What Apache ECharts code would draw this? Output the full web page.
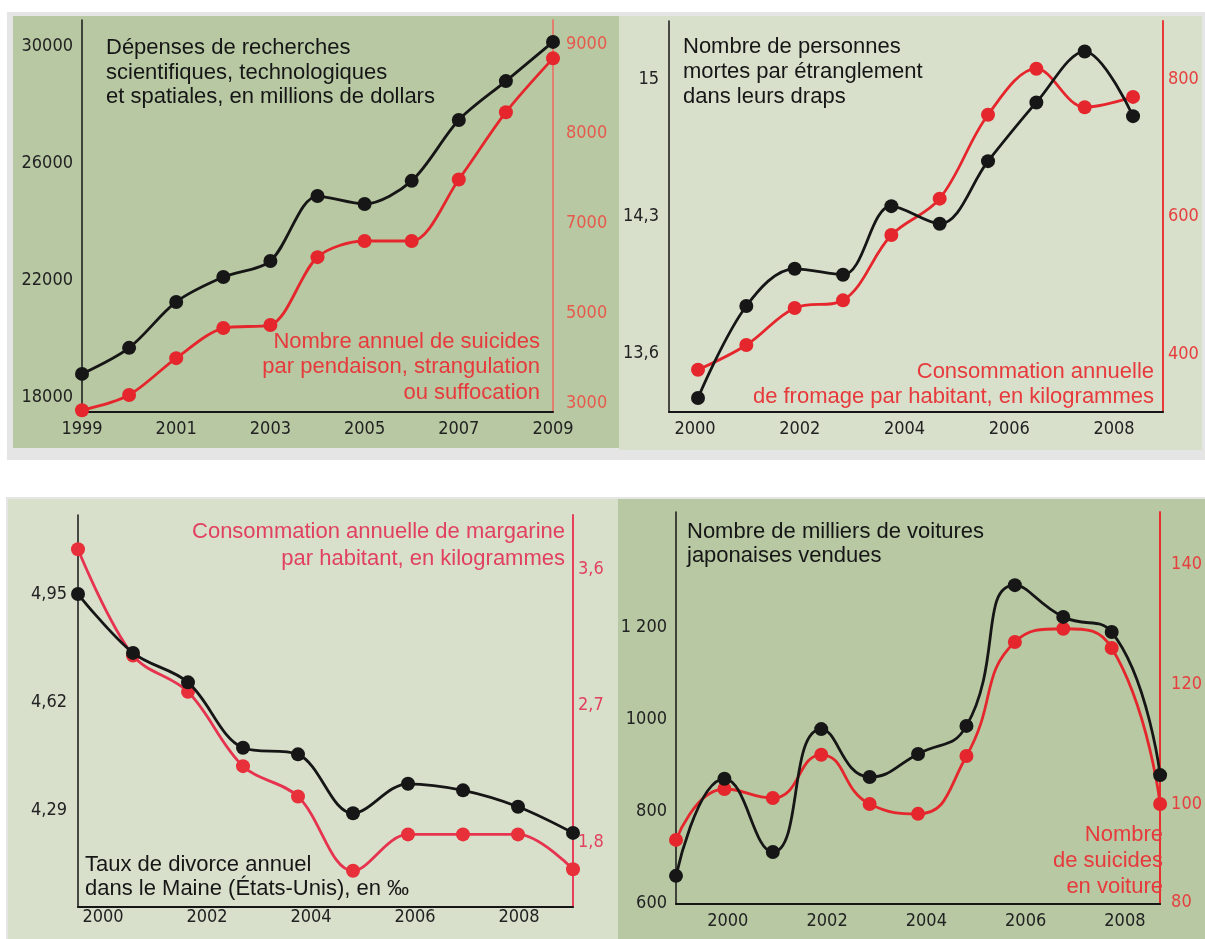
<!DOCTYPE html>
<html>
<head>
<meta charset="utf-8">
<title>Corrélations absurdes</title>
<script src="https://cdn.jsdelivr.net/npm/echarts@6/dist/echarts.min.js"></script>
<style>
  html, body { margin: 0; padding: 0; background: #fff; }
  #chart { width: 1205px; height: 939px; }
</style>
</head>
<body>
<div id="chart"></div>
<script>
// 1. dépenses de recherche / suicides par pendaison
const years1 = [1999, 2000, 2001, 2002, 2003, 2004, 2005, 2006, 2007, 2008, 2009]
const researchSpending = [18790, 19680, 21250, 22100, 22650, 24870, 24600, 25390, 27470, 28800, 30140]
const hangingSuicides = [2840, 3180, 4000, 4670, 4740, 6250, 6610, 6610, 7490, 8240, 8840]
const p1LeftTicks = ['18000', '22000', '26000', '30000']
const p1RightTicks = ['3000', '5000', '7000', '8000', '9000']
const p1YearTicks = ['1999', '2001', '2003', '2005', '2007', '2009']

// 2. morts étranglés dans leurs draps / fromage
const years2 = [2000, 2001, 2002, 2003, 2004, 2005, 2006, 2007, 2008, 2009]
const bedsheetDeaths = [13.37, 13.84, 14.03, 14.0, 14.35, 14.26, 14.58, 14.88, 15.14, 14.81]
const cheese = [377, 413, 467, 478, 573, 626, 748, 815, 759, 774]
const p2LeftTicks = ['13,6', '14,3', '15']
const p2RightTicks = ['400', '600', '800']
const p2YearTicks = ['2000', '2002', '2004', '2006', '2008']

// 3. divorces dans le Maine / margarine
const years3 = [2000, 2001, 2002, 2003, 2004, 2005, 2006, 2007, 2008, 2009]
const divorceRate = [4.95, 4.77, 4.68, 4.48, 4.46, 4.28, 4.37, 4.35, 4.3, 4.22]
const margarine = [3.73, 3.03, 2.79, 2.3, 2.1, 1.61, 1.85, 1.85, 1.85, 1.62]
const p3LeftTicks = ['4,29', '4,62', '4,95']
const p3RightTicks = ['1,8', '2,7', '3,6']
const p3YearTicks = ['2000', '2002', '2004', '2006', '2008']

// 4. voitures japonaises / suicides en voiture
const years4 = [1999, 2000, 2001, 2002, 2003, 2004, 2005, 2006, 2007, 2008, 2009]
const japaneseCars = [659, 870, 711, 978, 874, 924, 985, 1291, 1222, 1189, 878]
const carSuicides = [92.7, 102.5, 101, 108.2, 100, 98, 108, 127, 129.2, 126, 100]
const p4LeftTicks = ['600', '800', '1000', '1 200']
const p4RightTicks = ['80', '100', '120', '140']
const p4YearTicks = ['2000', '2002', '2004', '2006', '2008']

const FONT = '"Liberation Sans", Arial, sans-serif'
const NARROW = '"Liberation Sans Narrow", "DejaVu Sans Condensed", "Liberation Sans", sans-serif'
const BLACK = '#161616'
const RED = '#e5262c'
const DARK_BG = '#b7c8a3'
const LIGHT_BG = '#d8e0cc'

const num = s => parseFloat(s.replace(/\s/g, '').replace(',', '.'))

// échelle par morceaux quand les graduations ne sont pas régulières
function piecewise(xs, us) {
  return v => {
    let i = 0
    while (i < xs.length - 2 && v > xs[i + 1]) i++
    return us[i] + (v - xs[i]) * (us[i + 1] - us[i]) / (xs[i + 1] - xs[i])
  }
}

function labelFor(ticks, pos) {
  return v => {
    const k = pos.findIndex(p => Math.abs(p - v) < 1e-6)
    return k < 0 ? '' : ticks[k]
  }
}

const panels = [
  {
    grid: { left: 82, top: 20, width: 471, height: 392 },
    years: years1, smooth: 0.3,
    x: { min: 1999, max: 2009 },
    xLabels: { ticks: p1YearTicks, min: 1999, max: 2009, margin: 8 },
    left: { values: researchSpending, ticks: p1LeftTicks, min: 17487, max: 30889, margin: 9 },
    right: {
      values: hangingSuicides, ticks: p1RightTicks, units: [0, 1, 2, 3, 4],
      min: -0.1, max: 4.267, margin: 13,
      lineColor: '#e2806f', labelColor: '#e65a4c', line: RED, point: RED,
    },
  },
  {
    grid: { left: 669, top: 21, width: 494, height: 391 },
    years: years2, smooth: 0.35,
    x: { min: 1999.4, max: 2009.62 },
    xLabels: { ticks: p2YearTicks, min: 1999.504, max: 2008.936, margin: 8 },
    left: { values: bedsheetDeaths, ticks: p2LeftTicks, min: 13.2985, max: 15.296, margin: 10 },
    right: {
      values: cheese, ticks: p2RightTicks, min: 315.6, max: 884.4, margin: 5,
      lineColor: '#e63a3a', labelColor: '#e5403f', line: RED, point: RED,
    },
  },
  {
    grid: { left: 78, top: 515, width: 495, height: 392 },
    years: years3, smooth: 0.35,
    x: { min: 2000, max: 2009 },
    xLabels: { ticks: p3YearTicks, min: 1999.519, max: 2009.038, margin: 1 },
    left: { values: divorceRate, ticks: p3LeftTicks, min: 3.9936, max: 5.1914, margin: 11 },
    right: {
      values: margarine, ticks: p3RightTicks, min: 1.3714, max: 3.956, margin: 5,
      lineColor: '#e8405a', labelColor: '#e1415f', line: '#e6334f', point: '#e8303a',
    },
  },
  {
    grid: { left: 676, top: 512, width: 495, height: 392 },
    years: years4, smooth: 0.5,
    x: { min: 1999, max: 2009 },
    xLabels: { ticks: p4YearTicks, min: 1998.956, max: 2008.709, margin: 8 },
    left: { values: japaneseCars, ticks: p4LeftTicks, min: 597.8, max: 1450, margin: 9 },
    right: {
      values: carSuicides, ticks: p4RightTicks, units: [0.18, 1, 2, 3],
      min: 0.1667, max: 3.433, margin: 11,
      lineColor: '#e8302e', labelColor: '#e5403f', line: RED, point: RED,
    },
  },
]

const grid = []
const xAxis = []
const yAxis = []
const series = []

panels.forEach((p, g) => {
  grid.push(p.grid)

  // axe des données
  xAxis.push({
    type: 'value', gridIndex: g, position: 'bottom', min: p.x.min, max: p.x.max,
    axisLine: { show: true, onZero: false, lineStyle: { color: BLACK, width: 2 } },
    axisTick: { show: false }, axisLabel: { show: false }, splitLine: { show: false },
  })
  // années affichées sous l'axe
  const yearPos = p.xLabels.ticks.map(num)
  xAxis.push({
    type: 'value', gridIndex: g, position: 'bottom', min: p.xLabels.min, max: p.xLabels.max,
    axisLine: { show: false }, axisTick: { show: false }, splitLine: { show: false },
    axisLabel: {
      customValues: yearPos, formatter: labelFor(p.xLabels.ticks, yearPos),
      color: '#222', fontFamily: NARROW, fontSize: 18, margin: p.xLabels.margin,
    },
  })

  const leftPos = p.left.ticks.map(num)
  yAxis.push({
    type: 'value', gridIndex: g, position: 'left', min: p.left.min, max: p.left.max,
    axisLine: { show: true, onZero: false, lineStyle: { color: BLACK, width: 1.5 } },
    axisTick: { show: false }, splitLine: { show: false },
    axisLabel: {
      customValues: leftPos, formatter: labelFor(p.left.ticks, leftPos),
      color: '#222', fontFamily: NARROW, fontSize: 18, margin: p.left.margin,
    },
  })

  const r = p.right
  const rightVals = r.ticks.map(num)
  const toAxis = r.units ? piecewise(rightVals, r.units) : v => v
  const rightPos = r.units || rightVals
  yAxis.push({
    type: 'value', gridIndex: g, position: 'right', min: r.min, max: r.max,
    axisLine: { show: true, onZero: false, lineStyle: { color: r.lineColor, width: 2 } },
    axisTick: { show: false }, splitLine: { show: false },
    axisLabel: {
      customValues: rightPos, formatter: labelFor(r.ticks, rightPos),
      color: r.labelColor, fontFamily: NARROW, fontSize: 18, margin: r.margin,
    },
  })

  series.push({
    type: 'line', xAxisIndex: 2 * g, yAxisIndex: 2 * g + 1, z: 2,
    data: p.years.map((y, i) => [y, toAxis(r.values[i])]),
    smooth: p.smooth, symbol: 'circle', symbolSize: 14,
    lineStyle: { color: r.line, width: 2.8 }, itemStyle: { color: r.point },
  })
  series.push({
    type: 'line', xAxisIndex: 2 * g, yAxisIndex: 2 * g, z: 3,
    data: p.years.map((y, i) => [y, p.left.values[i]]),
    smooth: p.smooth, symbol: 'circle', symbolSize: 14,
    lineStyle: { color: BLACK, width: 2.8 }, itemStyle: { color: BLACK },
  })
})

function rect(x, y, w, h, fill) {
  return { type: 'rect', z: -1, silent: true, shape: { x, y, width: w, height: h }, style: { fill } }
}

function note(text, x, y, align, fill, lineHeight) {
  return {
    type: 'text', z: 10, silent: true,
    style: {
      text, x, y, align, verticalAlign: 'top', fill,
      fontFamily: FONT, fontSize: 22, lineHeight,
    },
  }
}

const graphic = [
  rect(7, 12, 1198, 448, '#e5e5e5'),
  rect(13, 16, 606, 432, DARK_BG),
  rect(619, 16, 583, 434, LIGHT_BG),
  rect(6, 497, 1199, 442, '#e5e5e5'),
  rect(8, 499, 610, 440, LIGHT_BG),
  rect(618, 499, 587, 440, DARK_BG),

  note('Dépenses de recherches\nscientifiques, technologiques\net spatiales, en millions de dollars', 106, 36, 'left', BLACK, 24.5),
  note('Nombre annuel de suicides\npar pendaison, strangulation\nou suffocation', 540, 329, 'right', '#e63a3c', 25.5),
  note('Nombre de personnes\nmortes par étranglement\ndans leurs draps', 683, 34.5, 'left', BLACK, 25),
  note('Consommation annuelle\nde fromage par habitant, en kilogrammes', 1154, 359.5, 'right', '#e63a3c', 25),
  note('Consommation annuelle de margarine\npar habitant, en kilogrammes', 565, 519, 'right', '#e1415f', 26.5),
  note('Taux de divorce annuel\ndans le Maine (États-Unis), en ‰', 85, 853, 'left', BLACK, 24),
  note('Nombre de milliers de voitures\njaponaises vendues', 687, 520.5, 'left', BLACK, 23.5),
  note('Nombre\nde suicides\nen voiture', 1163, 822, 'right', '#e63a3c', 26),
]

const chart = echarts.init(document.getElementById('chart'))
chart.setOption({
  animation: false,
  backgroundColor: '#fff',
  graphic,
  grid,
  xAxis,
  yAxis,
  series,
})
</script>
</body>
</html>
